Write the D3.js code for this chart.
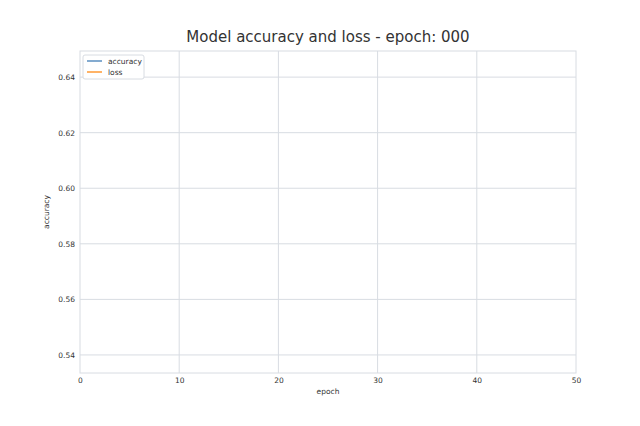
<!DOCTYPE html>
<html>
<head>
<meta charset="utf-8">
<script src="https://cdn.jsdelivr.net/npm/d3@7"></script>
<style>
  body { margin: 0; background: #fff; }
  text { font-family: "DejaVu Sans", sans-serif; }
</style>
</head>
<body>
<div id="chart"></div>
<script>
// data: epoch 000, nothing recorded yet
var epochs = [];
var accuracy = [];
var loss = [];

var xTicks = [0, 10, 20, 30, 40, 50];
var yTicks = [0.54, 0.56, 0.58, 0.60, 0.62, 0.64];
var seriesNames = ["accuracy", "loss"];
var seriesColors = ["#5b8fc0", "#ff9a33"];

var margin = {top: 51, right: 64, bottom: 53, left: 80},
    width = 640 - margin.left - margin.right,
    height = 426 - margin.top - margin.bottom;

var svg = d3.select("#chart")
  .append("svg")
    .attr("width", 640)
    .attr("height", 426)
  .append("g")
    .attr("transform", "translate(" + margin.left + "," + margin.top + ")");

var x = d3.scaleLinear()
  .domain([0, 50])
  .range([0, width]);

var y = d3.scaleLinear()
  .domain([0.5335, 0.6494])
  .range([height, 0]);

var gridColor = "#d8dce2";

// grid lines
svg.append("g")
  .selectAll("line")
  .data(xTicks.slice(1, -1))
  .join("line")
    .attr("x1", function(d) { return x(d); })
    .attr("x2", function(d) { return x(d); })
    .attr("y1", 0)
    .attr("y2", height)
    .attr("stroke", gridColor)
    .attr("stroke-width", 1);

svg.append("g")
  .selectAll("line")
  .data(yTicks)
  .join("line")
    .attr("x1", 0)
    .attr("x2", width)
    .attr("y1", function(d) { return y(d); })
    .attr("y2", function(d) { return y(d); })
    .attr("stroke", gridColor)
    .attr("stroke-width", 1);

// axes
var xAxis = svg.append("g")
  .attr("transform", "translate(0," + height + ")")
  .call(d3.axisBottom(x).tickValues(xTicks).tickSize(0).tickPadding(5).tickFormat(d3.format("d")));

var yAxis = svg.append("g")
  .call(d3.axisLeft(y).tickValues(yTicks).tickSize(0).tickPadding(5).tickFormat(d3.format(".2f")));

[xAxis, yAxis].forEach(function(a) {
  a.select(".domain").remove();
  a.attr("color", "#333");
  a.selectAll("text")
    .attr("fill", "#333")
    .style("font-size", "7.5px");
});

// frame
svg.append("rect")
  .attr("width", width)
  .attr("height", height)
  .attr("fill", "none")
  .attr("stroke", gridColor)
  .attr("stroke-width", 1);

// the lines (empty at epoch 000)
var line = d3.line()
  .x(function(d, i) { return x(epochs[i]); })
  .y(function(d) { return y(d); });

[accuracy, loss].forEach(function(s, i) {
  svg.append("path")
    .datum(s)
    .attr("fill", "none")
    .attr("stroke", seriesColors[i])
    .attr("stroke-width", 1.5)
    .attr("d", line);
});

// title
svg.append("text")
  .attr("x", width / 2)
  .attr("y", -9)
  .attr("text-anchor", "middle")
  .attr("fill", "#333")
  .style("font-size", "15px")
  .text("Model accuracy and loss - epoch: 000");

// axis labels
svg.append("text")
  .attr("x", width / 2)
  .attr("y", height + 21)
  .attr("text-anchor", "middle")
  .attr("fill", "#333")
  .style("font-size", "7.5px")
  .text("epoch");

svg.append("text")
  .attr("transform", "translate(-31," + (height / 2) + ") rotate(-90)")
  .attr("text-anchor", "middle")
  .attr("fill", "#333")
  .style("font-size", "7.5px")
  .text("accuracy");

// legend
var legend = svg.append("g")
  .attr("transform", "translate(3,4)");

legend.append("rect")
  .attr("width", 61)
  .attr("height", 24)
  .attr("rx", 2)
  .attr("fill", "#fff")
  .attr("stroke", "#d8dce2");

seriesNames.forEach(function(name, i) {
  legend.append("line")
    .attr("x1", 4)
    .attr("x2", 19)
    .attr("y1", 6 + i * 11)
    .attr("y2", 6 + i * 11)
    .attr("stroke", seriesColors[i])
    .attr("stroke-width", 1.5);
  legend.append("text")
    .attr("x", 25)
    .attr("y", 8.5 + i * 11)
    .attr("fill", "#333")
    .style("font-size", "7.5px")
    .text(name);
});
</script>
</body>
</html>
